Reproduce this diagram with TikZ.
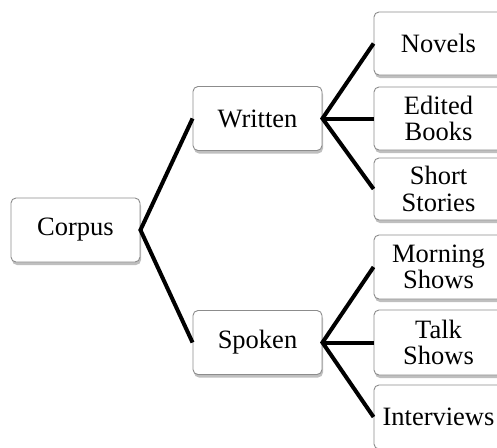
\documentclass[tikz,border=0pt]{standalone}
\usepackage{fontspec}
\setmainfont{Liberation Serif}
\usetikzlibrary{shadows}
\begin{document}
\begin{tikzpicture}[x=1pt,y=-1pt,
  box/.style={draw=black!45, line width=0.9pt, fill=white, rounded corners=5pt,
    minimum width=129pt, inner sep=0pt, align=center,
    font=\fontsize{26.5}{26.5}\selectfont,
    drop shadow={shadow xshift=1pt, shadow yshift=-3pt, opacity=0.25, fill=black}},
  link/.style={line width=4pt, black, line join=miter}]
\useasboundingbox (0,0) rectangle (497,447);
\clip (0,0) rectangle (497,447);
\node[box, minimum height=64pt] (corpus) at (75.5,230) {Corpus};
\node[box, minimum height=64pt] (written) at (257.5,118.5) {Written};
\node[box, minimum height=64pt] (spoken) at (257.5,342.5) {Spoken};
\node[box, minimum height=63pt] (novels) at (438.5,43.5) {Novels};
\node[box, minimum height=63pt] (edited) at (438.5,118.5) {Edited\\Books};
\node[box, minimum height=62pt] (short) at (438.5,189) {Short\\Stories};
\node[box, minimum height=64pt] (morning) at (438.5,267) {Morning\\Shows};
\node[box, minimum height=65pt] (talk) at (438.5,342.5) {Talk\\Shows};
\node[box, minimum height=64pt] (interviews) at (438.5,417) {Interviews};
\draw[link] (written.west) -- (corpus.east) -- (spoken.west);
\draw[link] (novels.west) -- (written.east) -- (short.west);
\draw[link] (written.east) -- (edited.west);
\draw[link] (morning.west) -- (spoken.east) -- (interviews.west);
\draw[link] (spoken.east) -- (talk.west);
\end{tikzpicture}
\end{document}
